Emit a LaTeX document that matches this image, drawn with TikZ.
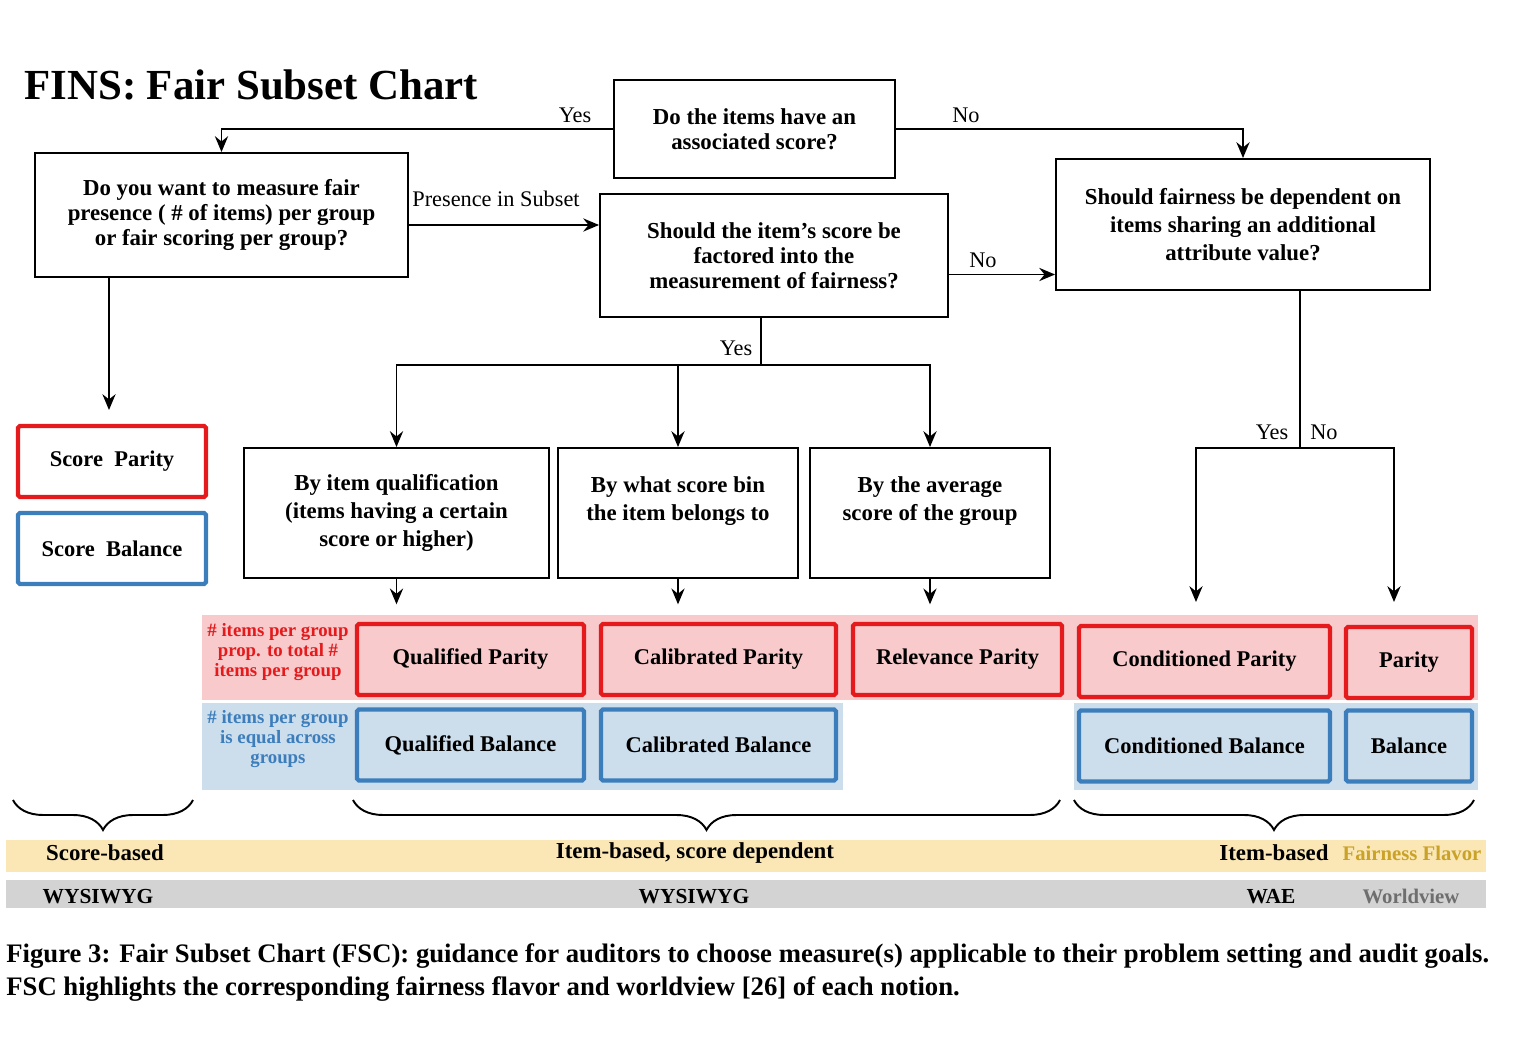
\documentclass[tikz,border=0pt]{standalone}
\usepackage{fontspec}
\setmainfont{Liberation Serif}
\usetikzlibrary{arrows.meta,calc,positioning,decorations.pathreplacing}

\definecolor{parityfill}{HTML}{F8CACB}
\definecolor{parityline}{HTML}{E41A1C}
\definecolor{balancefill}{HTML}{CCDDEC}
\definecolor{balanceline}{HTML}{3C7DBB}
\definecolor{flavorfill}{HTML}{FAE7B5}
\definecolor{flavortext}{HTML}{C9A227}
\definecolor{viewfill}{HTML}{D3D3D3}
\definecolor{viewtext}{HTML}{6E6E6E}

\newcommand{\fscTitle}{\fontsize{24.4}{30}\selectfont\bfseries}
\newcommand{\fscQuest}{\fontsize{13}{14.2}\selectfont\bfseries}
\newcommand{\fscOpt}{\fontsize{13}{16}\selectfont\bfseries}
\newcommand{\fscNotion}{\fontsize{12.8}{14}\selectfont\bfseries}
\newcommand{\fscAnswer}{\fontsize{12.7}{14}\selectfont}
\newcommand{\fscNote}{\fontsize{10.7}{11.5}\selectfont\bfseries}
\newcommand{\fscRow}{\fontsize{13}{14}\selectfont\bfseries}
\newcommand{\fscView}{\fontsize{12.2}{14}\selectfont\bfseries}
\newcommand{\fscKey}{\fontsize{11.8}{14}\selectfont\bfseries}
\newcommand{\fscCapt}{\fontsize{15.2}{18.8}\selectfont\bfseries}

\begin{document}
\begin{tikzpicture}[x=0.02cm, y=-0.02cm,
    question/.style={draw, line width=1.1pt, align=center, inner sep=0pt, font=\fscQuest},
    option/.style={question, font=\fscOpt},
    parity/.style={draw=parityline, fill=parityfill, line width=2.4pt, rounded corners=1pt,
                   inner sep=0pt, minimum height=1.42cm, font=\fscNotion},
    balance/.style={parity, draw=balanceline, fill=balancefill},
    answer/.style={font=\fscAnswer, inner sep=1pt},
    arr/.style={-{Stealth[length=9pt,width=7.5pt,inset=3pt]}, line width=1.1pt},
    link/.style={line width=1.1pt},
    brace/.style={decorate, decoration={brace, mirror, amplitude=0.6cm}, line width=1.1pt}]
\useasboundingbox (0,0) rectangle (1516,1044);

% title
\node[font=\fscTitle, anchor=west, inner sep=0pt] (title) at (24,85) {FINS: Fair Subset Chart};

% questions
\node[question, minimum width=5.62cm, minimum height=1.96cm] (q1) at (754.5,129)
    {Do the items have an\\associated score?};
\node[question, minimum width=7.46cm, minimum height=2.48cm] (q2) at (221.5,215)
    {Do you want to measure fair\\presence ( \# of items) per group\\or fair scoring per group?};
\node[question, minimum width=6.96cm, minimum height=2.46cm] (q3) at (774,255.5)
    {Should the item’s score be\\factored into the\\measurement of fairness?};
\node[option, minimum width=7.48cm, minimum height=2.62cm] (q4) at (1243,224.5)
    {Should fairness be dependent on\\items sharing an additional\\attribute value?};

% score bins
\node[option, minimum width=6.10cm, minimum height=2.60cm] (b1) at (396.5,513)
    {By item qualification\\(items having a certain\\score or higher)};
\node[option, minimum width=4.80cm, minimum height=2.60cm] (b2) at (678,513)
    {By what score bin\\the item belongs to\\\phantom{x}};
\node[option, minimum width=4.80cm, minimum height=2.60cm] (b3) at (930,513)
    {By the average\\score of the group\\\phantom{x}};

% bands
\fill[parityfill] (202,615) rectangle (1478,700);
\fill[balancefill] (202,703) rectangle (843,790);
\fill[balancefill] (1074,703) rectangle (1478,790);
\fill[flavorfill] (6,840) rectangle (1486,872);
\fill[viewfill] (6,880) rectangle (1486,908);

\node[font=\fscNote, text=parityline, align=center, inner sep=0pt] (pnote) at (278,652)
    {\# items per group\\prop. to total \#\\items per group};
\node[font=\fscNote, text=balanceline, align=center, inner sep=0pt] (bnote) at (278,739)
    {\# items per group\\is equal across\\groups};

% notions
\node[parity, fill=white, minimum width=3.76cm] (sp) at (112,461.5) {Score~~Parity};
\node[balance, fill=white, minimum width=3.76cm] (sb) at (112,548.5) {Score~~Balance};
\node[parity, minimum width=4.54cm] (qp) at (470.5,659.5) {Qualified Parity};
\node[parity, minimum width=4.70cm] (cp) at (718.5,659.5) {Calibrated Parity};
\node[parity, minimum width=4.18cm] (rp) at (957.5,659.5) {Relevance Parity};
\node[parity, minimum width=5.02cm] (ndp) at (1204.5,661.5) {Conditioned Parity};
\node[parity, minimum width=2.52cm] (pp) at (1409,662.5) {Parity};
\node[balance, minimum width=4.54cm] (qb) at (470.5,745) {Qualified Balance};
\node[balance, minimum width=4.70cm] (cb) at (718.5,745) {Calibrated Balance};
\node[balance, minimum width=5.02cm] (ndb) at (1204.5,746) {Conditioned Balance};
\node[balance, minimum width=2.52cm] (bb) at (1409,746) {Balance};

% connectors
\draw[arr] (q1.west) -| (q2.north);
\draw[arr] (q1.east) -| (q4.north);
\node[answer] (yes1) at (575,115) {Yes};
\node[answer] (no1) at (966,115) {No};

\draw[arr] ($(q2.east)+(0,10)$) -- ($(q3.west)+(0,-30.5)$);
\node[answer] (pres) at (496,199) {Presence in Subset};
\draw[arr] ($(q3.east)+(0,19)$) -- ($(q4.west)+(0,50)$);
\node[answer] (no2) at (983,260) {No};

\coordinate (spin) at (109,410);
\coordinate (q2out) at (spin |- q2.south);
\draw[arr] (q2out) -- (spin);

\coordinate (ysplit) at (761,365);
\coordinate (q3out) at (ysplit |- q3.south);
\draw[link] (q3out) -- (ysplit);
\draw[arr] (ysplit) -| (b1.north);
\draw[arr] (ysplit) -| (b3.north);
\draw[arr] (ysplit -| b2.north) -- (b2.north);
\node[answer] (yes2) at (736,348) {Yes};

\draw[arr, shorten >=10pt] (b1.south) -- (b1.south |- qp.north);
\draw[arr, shorten >=10pt] (b2.south) -- (b2.south |- cp.north);
\draw[arr, shorten >=10pt] (b3.south) -- (b3.south |- rp.north);

\coordinate (nsplit) at (1300,448);
\coordinate (q4out) at (nsplit |- q4.south);
\coordinate (ndin) at (1196,602);
\coordinate (ppin) at (1394,602);
\draw[link] (q4out) -- (nsplit);
\draw[arr] (nsplit) -| (ndin);
\draw[arr] (nsplit) -| (ppin);
\node[answer] (yes3) at (1272,432) {Yes};
\node[answer] (no3) at (1324,432) {No};

% braces
\draw[brace] (13,800) -- (193,800);
\draw[brace] (353,800) -- (1060,800);
\draw[brace] (1074,800) -- (1474,800);

% flavor and worldview rows
\node[font=\fscRow] (fl1) at (105,853) {Score-based};
\node[font=\fscRow] (fl2) at (695,853) {Item-based, score dependent};
\node[font=\fscRow] (fl3) at (1274,853) {Item-based};
\node[font=\fscKey, text=flavortext] (fl) at (1412,853) {Fairness Flavor};
\node[font=\fscView] (wv1) at (98,897) {WYSIWYG};
\node[font=\fscView] (wv2) at (694,897) {WYSIWYG};
\node[font=\fscView] (wv3) at (1271,897) {WAE};
\node[font=\fscKey, text=viewtext] (wv) at (1411,896) {Worldview};

% caption
\node[font=\fscCapt, anchor=west, align=left, inner sep=0pt] (capt) at (6,973)
    {Figure 3: Fair Subset Chart (FSC): guidance for auditors to choose measure(s) applicable to their problem setting and audit goals.\\
     FSC highlights the corresponding fairness flavor and worldview [26] of each notion.};
\end{tikzpicture}
\end{document}
